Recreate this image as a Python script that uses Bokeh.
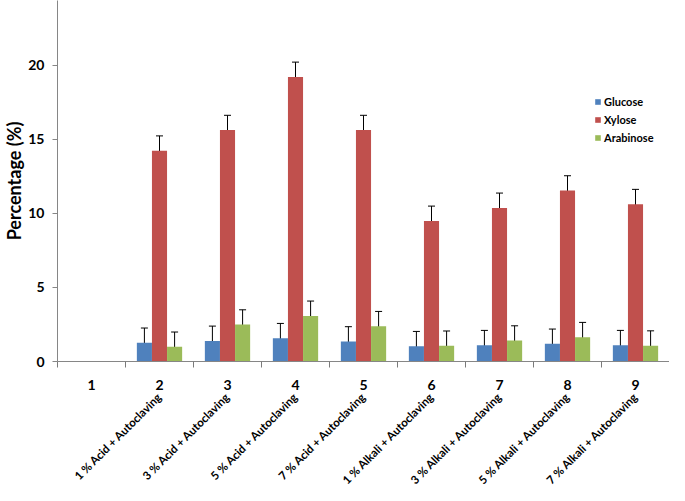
import math
import numpy as np
from bokeh.plotting import figure
from bokeh.models import (Range1d, FixedTicker, LinearAxis, ColumnDataSource,
                          Whisker, TeeHead)
from bokeh.embed import file_html
from bokeh.resources import INLINE

# ---- data ----
categories = ["1", "2", "3", "4", "5", "6", "7", "8", "9"]
treatments = ["1 % Acid + Autoclaving", "3 % Acid + Autoclaving",
              "5 % Acid + Autoclaving", "7 % Acid + Autoclaving",
              "1 % Alkali + Autoclaving", "3 % Alkali + Autoclaving",
              "5 % Alkali + Autoclaving", "7 % Alkali + Autoclaving"]
glucose = [0, 1.26, 1.39, 1.57, 1.35, 1.03, 1.10, 1.19, 1.10]
xylose = [0, 14.23, 15.62, 19.21, 15.62, 9.49, 10.37, 11.54, 10.62]
arabinose = [0, 0.99, 2.49, 3.08, 2.38, 1.06, 1.41, 1.64, 1.07]
glucose_err = [0, 1.0, 1.0, 1.0, 1.0, 1.0, 1.0, 1.0, 1.0]
xylose_err = [0, 1.0, 1.0, 1.0, 1.0, 1.0, 1.0, 1.0, 1.0]
arabinose_err = [0, 1.0, 1.0, 1.0, 1.0, 1.0, 1.0, 1.0, 1.0]
y_ticks = [0, 5, 10, 15, 20]

series = [("Glucose", glucose, glucose_err, "#4F81BD"),
          ("Xylose", xylose, xylose_err, "#C0504D"),
          ("Arabinose", arabinose, arabinose_err, "#9BBB59")]

FONT = "Lato"
AX = "#868686"

n = len(categories)
pos = np.arange(1, n + 1)

p = figure(width=669, height=493, x_range=Range1d(0.5, n + 0.5),
           y_range=Range1d(0, 24.37), output_backend="svg",
           toolbar_location=None, min_border_left=52, min_border_right=0,
           min_border_top=0, min_border_bottom=0, outline_line_color=None)
p.grid.visible = False

bw = 0.222
offsets = [-bw, 0.0, bw]
for (name, vals, errs, col), off in zip(series, offsets):
    x = pos + off
    src = ColumnDataSource(dict(x=x, top=vals))
    p.vbar(x="x", top="top", width=bw, source=src, fill_color=col,
           line_color=None, legend_label=name)
    keep = [i for i in range(n) if errs[i] > 0]
    wsrc = ColumnDataSource(dict(
        x=[x[i] for i in keep],
        up=[vals[i] + errs[i] for i in keep],
        lo=[max(vals[i] - errs[i], 0) for i in keep]))
    w = Whisker(base="x", upper="up", lower="lo", source=wsrc,
                line_color="black", line_width=1,
                upper_head=TeeHead(size=7, line_color="black", line_width=1),
                lower_head=TeeHead(size=7, line_color="black", line_width=1))
    p.add_layout(w)

# y axis
ya = p.yaxis[0]
ya.ticker = FixedTicker(ticks=y_ticks)
ya.major_tick_out = 5
ya.major_tick_in = 0
ya.minor_tick_line_color = None
ya.axis_line_color = AX
ya.major_tick_line_color = AX
ya.major_label_text_font = FONT
ya.major_label_text_font_style = "bold"
ya.major_label_text_font_size = "14px"
ya.major_label_text_color = "black"
ya.major_label_standoff = 8
ya.axis_label = "Percentage (%)"
ya.axis_label_text_font = FONT
ya.axis_label_text_font_style = "bold"
ya.axis_label_text_font_size = "18px"
ya.axis_label_text_color = "black"
ya.axis_label_standoff = 0

# x axis: numbers at centres, boundary ticks as minor ticks
xa = p.xaxis[0]
xa.ticker = FixedTicker(ticks=list(pos),
                        minor_ticks=list(np.arange(n + 1) + 0.5))
xa.major_label_overrides = {int(i): c for i, c in zip(pos, categories)}
xa.axis_line_color = AX
xa.major_tick_line_color = None
xa.major_tick_out = 0
xa.major_tick_in = 0
xa.minor_tick_line_color = "#7a7a7a"
xa.minor_tick_out = 6
xa.minor_tick_in = 0
xa.major_label_standoff = 12
xa.major_label_text_font = FONT
xa.major_label_text_font_style = "bold"
xa.major_label_text_font_size = "14px"
xa.major_label_text_color = "black"

# second x axis: rotated treatment labels under categories 2..9
tpos = list(pos[1:])
xc = LinearAxis(ticker=FixedTicker(ticks=tpos, minor_ticks=[]),
                major_label_overrides={int(i): t for i, t in zip(tpos, treatments)})
xc.axis_line_color = None
xc.major_tick_line_color = None
xc.minor_tick_line_color = None
xc.major_tick_out = 0
xc.major_tick_in = 0
xc.major_label_standoff = 2
xc.major_label_orientation = math.pi / 4
xc.major_label_text_font = FONT
xc.major_label_text_font_style = "bold"
xc.major_label_text_font_size = "11.5px"
xc.major_label_text_color = "black"
p.add_layout(xc, "below")

lg = p.legend[0]
lg.location = (537, 217)
lg.border_line_color = None
lg.background_fill_alpha = 0
lg.padding = 0
lg.margin = 0
lg.spacing = 5
lg.label_height = 13
lg.glyph_width = 7
lg.glyph_height = 7
lg.label_standoff = 3
lg.label_text_font = FONT
lg.label_text_font_style = "bold"
lg.label_text_font_size = "11px"
lg.label_text_color = "black"

open("out.html", "w").write(file_html(p, INLINE))
